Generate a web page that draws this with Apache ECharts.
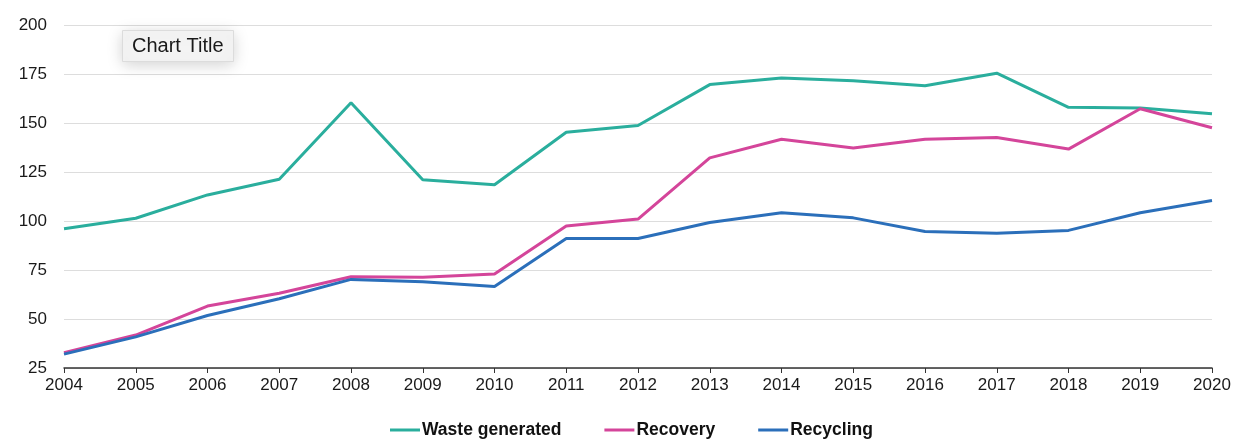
<!DOCTYPE html>
<html>
<head>
<meta charset="utf-8">
<title>Waste generated, recovery and recycling</title>
<script src="https://cdn.jsdelivr.net/npm/echarts@6/dist/echarts.min.js"></script>
<style>
  html, body { margin: 0; padding: 0; background: #ffffff; }
  #chart { width: 1234px; height: 439px; }
</style>
</head>
<body>
<div id="chart"></div>
<script>
// Years on the horizontal axis
const years = ['2004','2005','2006','2007','2008','2009','2010','2011','2012',
               '2013','2014','2015','2016','2017','2018','2019','2020'];

// Series values
const wasteGenerated = [96.1, 101.4, 113.3, 121.3, 160.3, 121, 118.5, 145.3, 148.7,
                        169.6, 173, 171.5, 169, 175.4, 158, 157.6, 154.7];
const recovery = [32.8, 41.8, 56.6, 63.1, 71.6, 71.3, 72.9, 97.4, 101,
                  132.2, 141.7, 137.3, 141.7, 142.6, 136.7, 157.3, 147.6];
const recycling = [32.1, 40.9, 51.8, 60.3, 70.2, 69, 66.6, 91.1, 91.1,
                   99.2, 104.2, 101.6, 94.6, 93.8, 95.2, 104.2, 110.5];

const seriesNames = ['Waste generated', 'Recovery', 'Recycling'];
const colors = ['#2aae9d', '#d4459a', '#2b6fba'];
const FONT = '"Liberation Sans", Arial, Helvetica, sans-serif';

const chart = echarts.init(document.getElementById('chart'));

function lineSeries(name, data, color) {
  return {
    name: name,
    type: 'line',
    data: data,
    symbol: 'none',
    smooth: false,
    lineStyle: { width: 3, color: color },
    itemStyle: { color: color }
  };
}

chart.setOption({
  animation: false,
  textStyle: { fontFamily: FONT },
  title: {
    text: 'Chart Title',
    left: 122,
    top: 30,
    padding: [5, 10, 5, 10],
    backgroundColor: '#f4f4f4',
    borderColor: '#dcdcdc',
    borderWidth: 1,
    shadowBlur: 16,
    shadowColor: 'rgba(0,0,0,0.18)',
    shadowOffsetY: 3,
    textStyle: { fontSize: 20, lineHeight: 22, fontWeight: 'normal', color: '#1a1a1a', fontFamily: FONT }
  },
  legend: {
    data: seriesNames,
    top: 420,
    left: 390,
    padding: 0,
    itemGap: 43,
    itemWidth: 30,
    itemHeight: 3,
    icon: 'rect',
    textStyle: { fontSize: 17.5, lineHeight: 20, fontWeight: 'bold', color: '#111', fontFamily: FONT, padding: [0, 0, 0, -3] }
  },
  grid: { left: 64, right: 22, top: 25, bottom: 71, containLabel: false },
  xAxis: {
    type: 'category',
    data: years,
    boundaryGap: false,
    axisLine: { show: true, lineStyle: { color: '#333', width: 1.5 } },
    axisTick: { show: true, alignWithLabel: true, length: 5, lineStyle: { color: '#333' } },
    axisLabel: { fontSize: 17, color: '#1a1a1a', margin: 9, fontFamily: FONT }
  },
  yAxis: {
    type: 'value',
    min: 25,
    max: 200,
    interval: 25,
    axisLine: { show: false },
    axisTick: { show: false },
    splitLine: { lineStyle: { color: '#dddddd', width: 1 } },
    axisLabel: { fontSize: 17, color: '#1a1a1a', margin: 17, fontFamily: FONT }
  },
  series: [
    lineSeries(seriesNames[0], wasteGenerated, colors[0]),
    lineSeries(seriesNames[1], recovery, colors[1]),
    lineSeries(seriesNames[2], recycling, colors[2])
  ]
});
</script>
</body>
</html>
